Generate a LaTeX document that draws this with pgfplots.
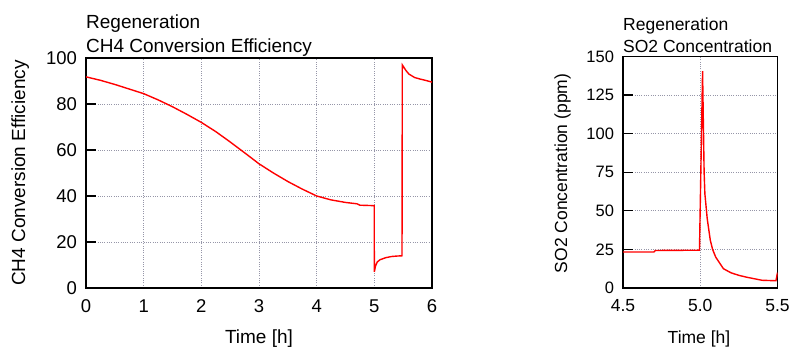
\documentclass[border=0pt]{standalone}
\usepackage{fontspec}
\setmainfont{Liberation Sans}
\usepackage{pgfplots}
\pgfplotsset{compat=1.18}
\definecolor{gridc}{RGB}{150,150,168}
\begin{document}
\begin{tikzpicture}[x=1bp,y=1bp]
\fontsize{19bp}{24bp}\selectfont
\path[use as bounding box] (0bp,0bp) rectangle (790bp,347bp);
\pgfplotsset{
  myax/.style={
    scale only axis,
    anchor=south west,
    axis line style={black, line width=1.3bp},
    grid=major,
    grid style={gridc, dash pattern=on 1bp off 1.3bp, line width=0.8bp},
    tick align=inside,
    tickpos=left,
    major tick length=10bp,
    ytick style={black, line width=1.3bp},
    xtick style={draw=none},
    /pgf/number format/assume math mode=true,
    yticklabel style={xshift=-2.5bp},
    xticklabel style={yshift=-5bp},
  }
}
\begin{axis}[myax,
  at={(86bp,59bp)}, width=346bp, height=230bp,
  xmin=0, xmax=6, ymin=0, ymax=100,
  tick label style={font=\fontsize{18.5bp}{22bp}\selectfont},
  xtick={0,1,2,3,4,5,6}, ytick={0,20,40,60,80,100},
]
\addplot[red, line width=1.4bp] coordinates {
(0,91.8) (0.25,90.3) (0.5,88.5) (0.75,86.5) (1,84.5) (1.25,81.8) (1.5,78.8)
(1.75,75.5) (2,72) (2.25,68) (2.5,63.5) (2.75,58.8) (3,54) (3.25,50)
(3.5,46.3) (3.75,43) (4,40) (4.25,38.3) (4.5,37.2) (4.7,36.6) (4.75,36.0)
(4.998,35.8) (5.0,7.0) (5.02,9.5) (5.05,11.3) (5.1,12.3) (5.2,13.2)
(5.3,13.7) (5.4,13.9) (5.48,14.0) (5.485,97.0) (5.55,94.5) (5.6,93)
(5.7,91.5) (5.8,90.8) (5.9,90.2) (6.0,89.5)
};
\end{axis}
\begin{axis}[myax,
  at={(623bp,59bp)}, width=154.5bp, height=231.5bp,
  xmin=4.5, xmax=5.5, ymin=0, ymax=150,
  yticklabel style={font=\fontsize{16.5bp}{20bp}\selectfont},
  xticklabel style={font=\fontsize{17.5bp}{20bp}\selectfont},
  xtick={4.5,5,5.5}, xticklabels={4.5,5.0,5.5},
  ytick={0,25,50,75,100,125,150},
]
\addplot[red, line width=1.4bp] coordinates {
(4.5,23.3) (4.7,23.3) (4.71,24.3) (4.995,24.5) (5.015,140.5) (5.025,75)
(5.03,61) (5.045,45) (5.065,31) (5.08,25) (5.1,20) (5.15,12.5) (5.2,9.8)
(5.25,8.2) (5.3,7) (5.35,6) (5.4,5) (5.49,4.7) (5.5,10)
};
\end{axis}
\node[anchor=base west, inner sep=0] at (86bp,318bp) {Regeneration};
\node[anchor=base west, inner sep=0] at (86bp,294bp) {CH4 Conversion Efficiency};
\node[anchor=base, inner sep=0] at (259bp,4bp) {Time [h]};
\node[anchor=base, inner sep=0, rotate=90] at (25bp,174bp) {CH4 Conversion Efficiency};
\begin{scope}[font=\fontsize{17.5bp}{21bp}\selectfont]
\node[anchor=base west, inner sep=0] at (623bp,316.5bp) {Regeneration};
\node[anchor=base west, inner sep=0] at (623bp,294.5bp) {SO2 Concentration};
\node[anchor=base, inner sep=0] at (699bp,4bp) {Time [h]};
\node[anchor=base, inner sep=0, rotate=90] at (567bp,173.5bp) {SO2 Concentration (ppm)};
\end{scope}
\end{tikzpicture}
\end{document}
